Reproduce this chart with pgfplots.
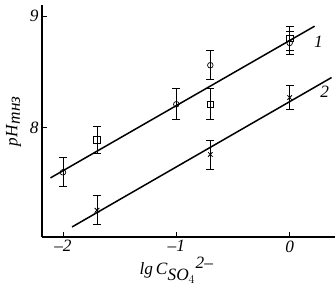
\documentclass[border=0pt]{standalone}
\usepackage{fontspec}
\setmainfont{Liberation Serif}
\usepackage{pgfplots}
\pgfplotsset{compat=1.18}
\begin{document}
\begin{tikzpicture}
\begin{axis}[name=ax,
  scale only axis, width=293pt, height=232pt,
  axis lines=left, axis line style={-, line width=1.1pt},
  xmin=-2.185, xmax=0.4, ymin=7.02, ymax=9.1,
  xtick={-2,-1,0}, xticklabels={\textit{--2},\textit{--1},\textit{0}},
  ytick={8,9}, yticklabels={\textit{8},\textit{9}},
  tick style={black, line width=0.9pt}, major tick length=5pt, tick align=inside,
  tick label style={font=\LARGE},
  xlabel={\textit{lg\,C}$_{\textit{SO}_{\scriptstyle 4}}{}^{\textit{2--}}$},
  ylabel={\textit{pH}$_{\textit{тнз}}$},
  label style={font=\LARGE},
  xlabel style={yshift=2pt, xshift=-12pt},
  ylabel style={yshift=2pt},
  clip=false,
  error bars/error bar style={line width=0.9pt},
  error bars/error mark options={rotate=90, mark size=4pt, line width=0.9pt},
]
% fitted lines
\addplot[black, line width=1.5pt] coordinates {(-2.11,7.55) (0.22,8.91)};
\addplot[black, line width=1.5pt] coordinates {(-1.92,7.11) (0.37,8.45)};
% circles
\addplot[only marks, mark=o, mark size=2.8pt, black, mark options={fill=white, line width=0.7pt},
  error bars/.cd, y dir=both, y explicit]
  coordinates {(-2,7.60) +- (0,0.13) (-1,8.21) +- (0,0.14) (-0.7,8.56) +- (0,0.13) (0,8.76) +- (0,0.1)};
% squares
\addplot[only marks, mark=square, mark size=3.2pt, black, mark options={fill=white, line width=0.7pt},
  error bars/.cd, y dir=both, y explicit]
  coordinates {(-1.7,7.89) +- (0,0.12) (-0.7,8.21) +- (0,0.14) (0,8.80) +- (0,0.11)};
% crosses
\addplot[only marks, mark=x, mark size=3.2pt, black, mark options={line width=0.8pt},
  error bars/.cd, y dir=both, y explicit]
  coordinates {(-1.7,7.26) +- (0,0.13) (-0.7,7.76) +- (0,0.13) (0,8.27) +- (0,0.11)};
\node[font=\LARGE\itshape] at (axis cs:0.255,8.77) {1};
\node[font=\LARGE\itshape] at (axis cs:0.31,8.32) {2};
\end{axis}
\pgfresetboundingbox
\path ([shift={(-42pt,-61pt)}]ax.south west) rectangle ([shift={(0pt,5pt)}]ax.north east);
\end{tikzpicture}
\end{document}
